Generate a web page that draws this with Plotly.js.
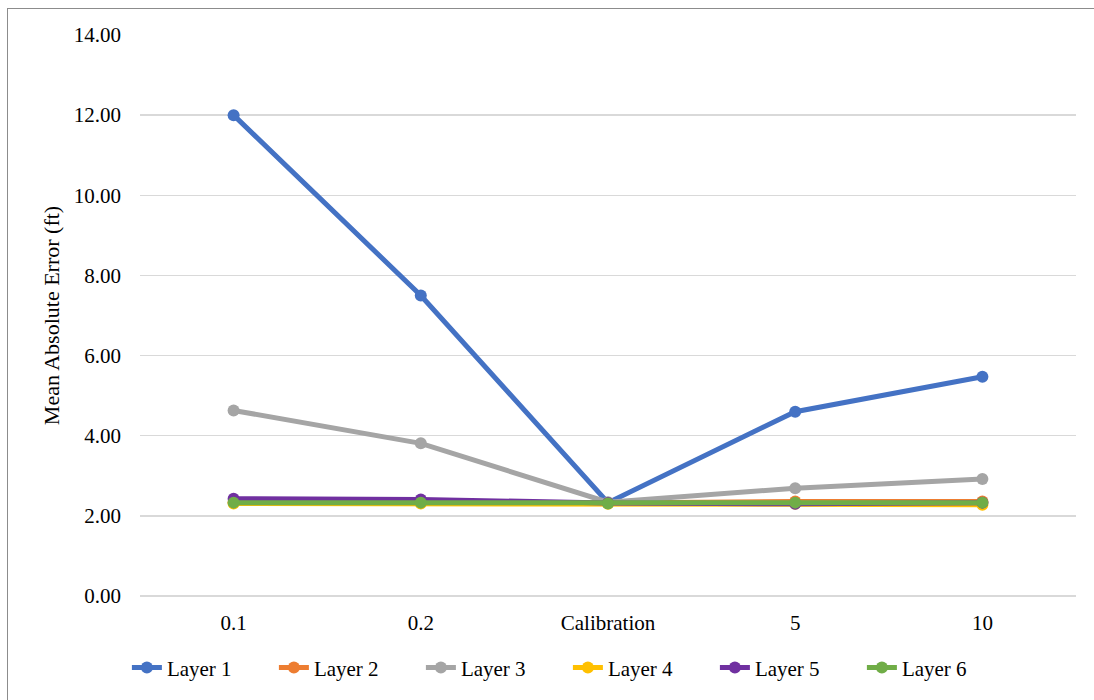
<!DOCTYPE html>
<html>
<head>
<meta charset="utf-8">
<script src="https://cdn.plot.ly/plotly-3.0.1.min.js"></script>
<style>
  html, body { margin: 0; padding: 0; background: #fff; }
  #frame { position: absolute; left: 7px; top: 8px; width: 1100px; height: 700px; border: 1px solid #8c8c8c; box-sizing: border-box; }
  #chart { position: absolute; left: 0; top: 0; width: 1094px; height: 700px; }
</style>
</head>
<body>
<div id="frame"></div>
<div id="chart"></div>
<script>
const categories = ["0.1", "0.2", "Calibration", "5", "10"];
const layer1 = [12.00, 7.50, 2.33, 4.60, 5.47];
const layer2 = [2.34, 2.34, 2.32, 2.36, 2.36];
const layer3 = [4.63, 3.81, 2.34, 2.69, 2.92];
const layer4 = [2.31, 2.31, 2.30, 2.30, 2.28];
const layer5 = [2.43, 2.41, 2.32, 2.30, 2.33];
const layer6 = [2.33, 2.33, 2.31, 2.33, 2.33];
const seriesNames = ["Layer 1", "Layer 2", "Layer 3", "Layer 4", "Layer 5", "Layer 6"];
const seriesValues = [layer1, layer2, layer3, layer4, layer5, layer6];
const colors = ["#4472C4", "#ED7D31", "#A5A5A5", "#FFC000", "#7030A0", "#70AD47"];

const traces = seriesNames.map((name, i) => ({
  x: categories,
  y: seriesValues[i],
  name: name,
  type: "scatter",
  mode: "lines+markers",
  line: { color: colors[i], width: 5 },
  marker: { color: colors[i], size: 12 }
}));

const layout = {
  width: 1094,
  height: 700,
  paper_bgcolor: "rgba(0,0,0,0)",
  plot_bgcolor: "rgba(0,0,0,0)",
  margin: { l: 140, r: 18, t: 35, b: 102 },
  font: { family: "Liberation Serif, Times New Roman, serif", size: 21, color: "#000" },
  showlegend: true,
  legend: {
    orientation: "h",
    x: -0.014, xanchor: "left",
    y: -0.128, yanchor: "middle",
    font: { size: 21, color: "#000" },
    itemwidth: 30,
    entrywidth: 102,
    entrywidthmode: "pixels"
  },
  xaxis: {
    type: "category",
    range: [-0.5, 4.5],
    showgrid: false,
    zeroline: false,
    showline: false,
    ticks: "",
    ticklabelstandoff: 12,
    tickfont: { size: 21, color: "#000" }
  },
  yaxis: {
    range: [0, 14],
    dtick: 2,
    tickformat: ".2f",
    showgrid: true,
    gridcolor: "#d9d9d9",
    gridwidth: 1.5,
    zeroline: true,
    zerolinecolor: "#d9d9d9",
    zerolinewidth: 1.5,
    showline: false,
    ticks: "",
    ticklabelstandoff: 18,
    tickfont: { size: 21, color: "#000" },
    title: { text: "Mean Absolute Error (ft)", font: { size: 22, color: "#000" }, standoff: 8 }
  }
};

Plotly.newPlot("chart", traces, layout, { displayModeBar: false, staticPlot: true });
</script>
</body>
</html>
